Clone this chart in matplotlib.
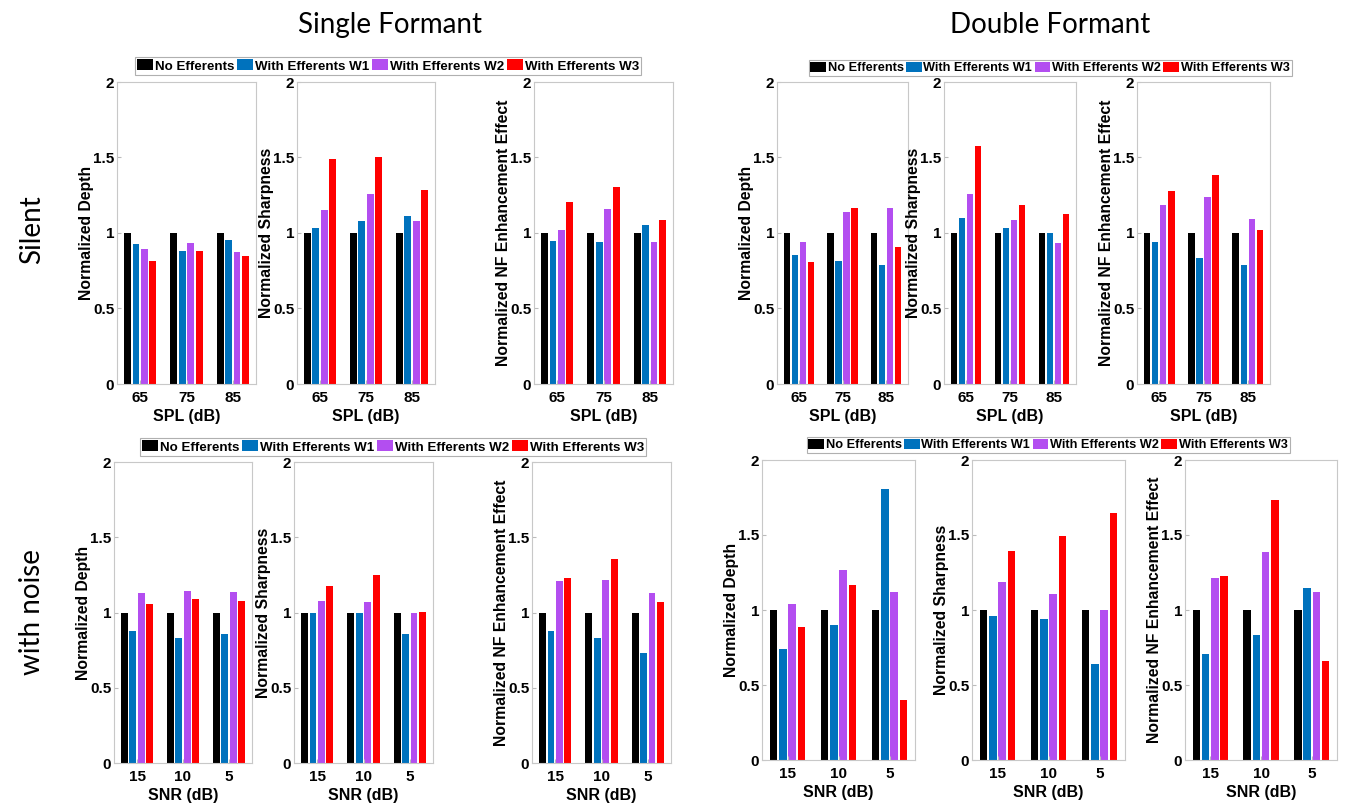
import matplotlib.pyplot as plt
import numpy as np

# ---- data: rows = x groups, cols = [No Eff, W1, W2, W3] ----
series_names = ["No Efferents", "With Efferents W1", "With Efferents W2", "With Efferents W3"]
series_colors = ["#000000", "#0072BD", "#B34EF0", "#FF0000"]

spl_ticks = ["65", "75", "85"]
snr_ticks = ["15", "10", "5"]

single_silent_depth = [[1.0, 0.927, 0.893, 0.816],
                       [1.0, 0.878, 0.933, 0.878],
                       [1.0, 0.951, 0.871, 0.849]]
single_silent_sharp = [[1.0, 1.031, 1.153, 1.493],
                       [1.0, 1.078, 1.256, 1.500],
                       [1.0, 1.111, 1.082, 1.282]]
single_silent_nf = [[1.0, 0.949, 1.022, 1.207],
                    [1.0, 0.940, 1.156, 1.307],
                    [1.0, 1.056, 0.938, 1.087]]

double_silent_depth = [[1.0, 0.853, 0.941, 0.810],
                       [1.0, 0.815, 1.138, 1.165],
                       [1.0, 0.786, 1.165, 0.908]]
double_silent_sharp = [[1.0, 1.099, 1.260, 1.575],
                       [1.0, 1.030, 1.087, 1.187],
                       [1.0, 1.000, 0.932, 1.123]]
double_silent_nf = [[1.0, 0.939, 1.184, 1.278],
                    [1.0, 0.834, 1.236, 1.385],
                    [1.0, 0.787, 1.095, 1.017]]

single_noise_depth = [[1.0, 0.879, 1.130, 1.056],
                      [1.0, 0.833, 1.145, 1.090],
                      [1.0, 0.857, 1.134, 1.076]]
single_noise_sharp = [[1.0, 1.000, 1.076, 1.174],
                      [1.0, 1.000, 1.068, 1.247],
                      [1.0, 0.859, 0.997, 1.003]]
single_noise_nf = [[1.0, 0.878, 1.209, 1.231],
                   [1.0, 0.831, 1.218, 1.355],
                   [1.0, 0.729, 1.127, 1.072]]

double_noise_depth = [[1.0, 0.742, 1.041, 0.886],
                      [1.0, 0.899, 1.267, 1.167],
                      [1.0, 1.805, 1.123, 0.401]]
double_noise_sharp = [[1.0, 0.959, 1.187, 1.391],
                      [1.0, 0.937, 1.105, 1.495],
                      [1.0, 0.642, 1.003, 1.648]]
double_noise_nf = [[1.0, 0.704, 1.216, 1.227],
                   [1.0, 0.833, 1.389, 1.733],
                   [1.0, 1.144, 1.122, 0.660]]

ylabels = ["Normalized Depth", "Normalized Sharpness", "Normalized NF Enhancement Effect"]

W, H = 1345, 805
fig = plt.figure(figsize=(W / 100, H / 100), dpi=100)
plt.rcParams['font.family'] = ['Liberation Sans', 'DejaVu Sans']


def px_axes(x0, x1, ytop, ybot):
    return fig.add_axes([x0 / W, 1 - ybot / H, (x1 - x0) / W, (ybot - ytop) / H])


def bar_panel(ax, data, ticks, ylabel, xlabel):
    data = np.array(data)
    x = np.arange(1, 4)
    step = 0.182
    for k in range(4):
        ax.bar(x + (k - 1.5) * step, data[:, k], width=0.146,
               color=series_colors[k], label=series_names[k])
    ax.set_xlim(0.5, 3.5)
    ax.set_ylim(0, 2)
    ax.set_yticks([0, 0.5, 1, 1.5, 2])
    ax.set_yticklabels(["0", "0.5", "1", "1.5", "2"])
    ax.set_xticks(x)
    ax.set_xticklabels(ticks)
    ax.tick_params(direction='in', length=3, color='#bbbbbb', labelsize=11, pad=2)
    ax.tick_params(axis='x', pad=5)
    for lab in ax.get_xticklabels() + ax.get_yticklabels():
        lab.set_fontweight('bold')
    for s in ax.spines.values():
        s.set_color('#c8c8c8')
        s.set_linewidth(0.8)
    ax.set_ylabel(ylabel, fontsize=11.3, fontweight='bold', labelpad=-1)
    ax.set_xlabel(xlabel, fontsize=11.5, fontweight='bold', labelpad=3)


blocks = [
    # panel data, tick labels, xlabel, pixel x ranges, y range, legend centre, legend size
    ([single_silent_depth, single_silent_sharp, single_silent_nf], spl_ticks, "SPL (dB)",
     [(117, 256), (297, 435), (534, 673)], (82, 384), (388, 66), 9.6),
    ([double_silent_depth, double_silent_sharp, double_silent_nf], spl_ticks, "SPL (dB)",
     [(777, 908), (944, 1076), (1137, 1270)], (82, 384), (1050, 68), 9.2),
    ([single_noise_depth, single_noise_sharp, single_noise_nf], snr_ticks, "SNR (dB)",
     [(114, 252), (294, 433), (532, 671)], (462, 763), (393, 447), 9.6),
    ([double_noise_depth, double_noise_sharp, double_noise_nf], snr_ticks, "SNR (dB)",
     [(762, 915), (972, 1125), (1185, 1337)], (460, 760), (1048, 445), 9.2),
]

for panels, ticks, xlabel, xr, yr, (lx, ly), lsize in blocks:
    axs = []
    for data, (x0, x1), yl in zip(panels, xr, ylabels):
        ax = px_axes(x0, x1, yr[0], yr[1])
        bar_panel(ax, data, ticks, yl, xlabel)
        axs.append(ax)
    handles, labels = axs[0].get_legend_handles_labels()
    leg = fig.legend(handles, labels, loc='center', ncol=4,
                     bbox_to_anchor=(lx / W, 1 - ly / H),
                     prop={'weight': 'bold', 'size': lsize},
                     handlelength=1.2, handleheight=0.9, handletextpad=0.15,
                     columnspacing=0.2, borderpad=0.15, borderaxespad=0,
                     fancybox=False, framealpha=1)
    leg.get_frame().set_edgecolor('#b0b0b0')
    leg.get_frame().set_linewidth(0.8)

title_font = ['Lato', 'DejaVu Sans']
fig.text(390 / W, 1 - 25 / H, "Single Formant", ha='center', va='center',
         fontsize=20, family=title_font)
fig.text(1050 / W, 1 - 25 / H, "Double Formant", ha='center', va='center',
         fontsize=20, family=title_font)
fig.text(32 / W, 1 - 230 / H, "Silent", ha='center', va='center', rotation=90,
         fontsize=20, family=title_font)
fig.text(32 / W, 1 - 612 / H, "with noise", ha='center', va='center', rotation=90,
         fontsize=20, family=title_font)

fig.savefig("out.png", dpi=100)
